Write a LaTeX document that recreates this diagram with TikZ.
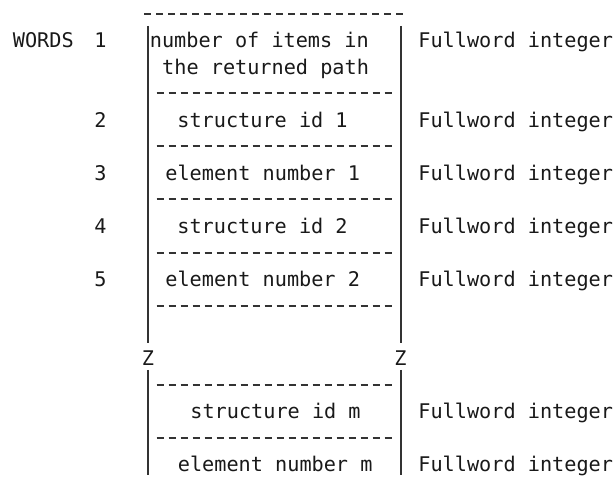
\documentclass[tikz,border=0pt]{standalone}
\usepackage{fontspec}
\newfontfamily\wordfont{DejaVu Sans Mono}
\begin{document}
\begin{tikzpicture}[x=0.5pt, y=-13.25pt,
    every node/.style={font=\wordfont\fontsize{10.1}{12}\selectfont, inner sep=0pt, text=black!90},
    cell/.style={anchor=base west, yshift=-3.65pt},
    digit/.style={anchor=base, yshift=-3.65pt},
    bar/.style={line width=1pt, black!80},
    rule/.style={line width=1pt, black!80, dash pattern=on 3.65pt off 2.35pt}]
  \useasboundingbox (0,-0.528) rectangle (613,17.925);
  % Marco lateral
  \coordinate (lt) at (148,0.45);
  \coordinate (lz) at (148,12.4);
  \coordinate (lr) at (148,13.43);
  \coordinate (lb) at (148,17.4);
  \coordinate (rt) at (400.5,0.45);
  \coordinate (rz) at (400.5,12.4);
  \coordinate (rr) at (400.5,13.43);
  \coordinate (rb) at (400.5,17.4);
  \draw[bar] (lt) -- (lz);
  \draw[bar] (lr) -- (lb);
  \draw[bar] (rt) -- (rz);
  \draw[bar] (rr) -- (rb);
  \node[digit] (zl) at (148,13) {Z};
  \node[digit] (zr) at (400.5,13) {Z};
  % Separadores
  \draw[rule] (144,0) -- (403.3,0);
  \foreach \r in {3,5,7,9,11,14,16}
    \draw[rule] (156.7,\r) -- (392,\r);
  % Palabras
  \node[cell] (words) at (12.5,1) {WORDS};
  \node[digit] (w1) at (100.5,1) {1};
  \node[digit] (w2) at (100.5,4) {2};
  \node[digit] (w3) at (100.5,6) {3};
  \node[digit] (w4) at (100.5,8) {4};
  \node[digit] (w5) at (100.5,10) {5};
  % Contenido
  \node[cell] (items) at (149.5,1) {number of items in};
  \node[cell] (path) at (161.8,2) {the returned path};
  \node[cell] (sid1) at (177,4) {structure id 1};
  \node[cell] (el1) at (165,6) {element number 1};
  \node[cell] (sid2) at (177,8) {structure id 2};
  \node[cell] (el2) at (165,10) {element number 2};
  \node[cell] (sidm) at (190,15) {structure id m};
  \node[cell] (elm) at (177.5,17) {element number m};
  % Tipos
  \foreach \r in {1,4,6,8,10,15,17}
    \node[cell] (type\r) at (418,\r) {Fullword integer};
\end{tikzpicture}
\end{document}
